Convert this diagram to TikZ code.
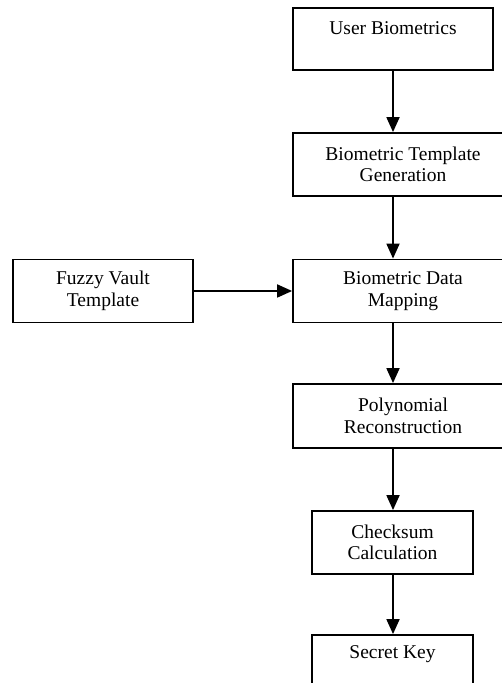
\documentclass[tikz,border=0pt]{standalone}
\usepackage{fontspec}
\setmainfont{Liberation Serif}
\usetikzlibrary{arrows.meta}
\begin{document}
\begin{tikzpicture}[x=1pt,y=1pt,
  box/.style={draw,line width=1.8pt,rectangle,inner sep=0pt,align=center,
    font=\fontsize{19.5}{21.5}\selectfont},
  lbl/.style={inner sep=0pt,align=center,font=\fontsize{19.5}{21.5}\selectfont},
  arr/.style={line width=1.8pt,-{Triangle[length=15pt,width=13pt]}}]
\useasboundingbox (0,0) rectangle (502,683);
\clip (0,0) rectangle (502,683);
% boxes (centre, width, height)
\node[box,minimum width=200,minimum height=62] (b1) at (393,644) {};
\node[lbl] (b1t) at (393,655) {User Biometrics};
\node[box,minimum width=220,minimum height=63] (b2) at (403,518.5) {Biometric Template\\Generation};
\node[box,minimum width=220,minimum height=63] (b3) at (403,392) {Biometric Data\\Mapping};
\node[box,minimum width=180,minimum height=63] (fz) at (103,392) {Fuzzy Vault\\Template};
\node[box,minimum width=220,minimum height=64] (b4) at (403,267) {Polynomial\\Reconstruction};
\node[box,minimum width=161,minimum height=63] (b5) at (392.5,140.5) {Checksum\\Calculation};
\node[box,minimum width=161,minimum height=65] (b6) at (392.5,15.5) {};
\node[lbl] (b6t) at (392.5,29) {Secret Key};
% connectors
\draw[arr] (b1.south) -- (b2.north -| b1.south);
\draw[arr] (b2.south -| b1.south) -- (b3.north -| b1.south);
\draw[arr] (fz.east) -- (b3.west);
\draw[arr] (b3.south -| b1.south) -- (b4.north -| b1.south);
\draw[arr] (b4.south -| b1.south) -- (b5.north -| b1.south);
\draw[arr] (b5.south -| b1.south) -- (b6.north -| b1.south);
\end{tikzpicture}
\end{document}
